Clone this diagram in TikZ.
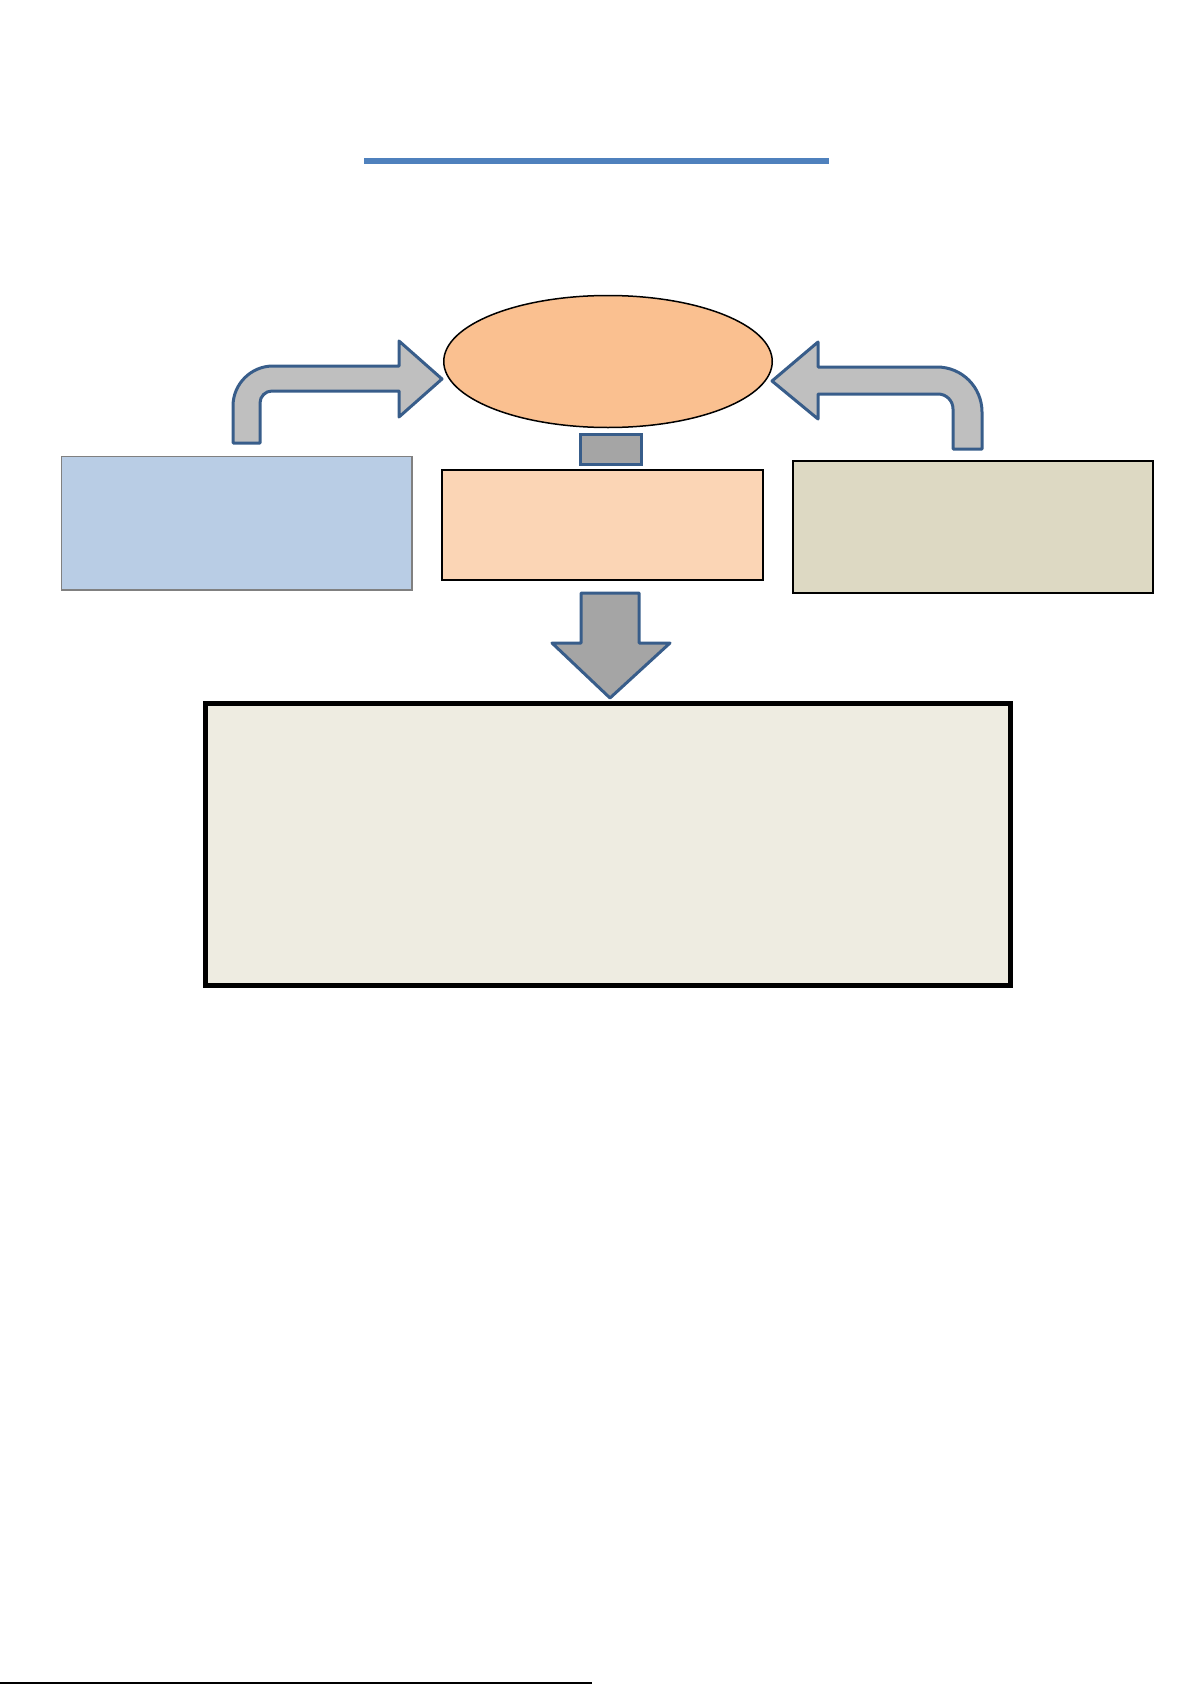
\documentclass[tikz,border=0pt]{standalone}
\usepackage{tikz}
\usetikzlibrary{shapes,arrows.meta,positioning,calc}
\usepackage{xcolor}
\definecolor{titleblue}{RGB}{79,129,189}
\definecolor{arrowblue}{RGB}{56,93,138}
\definecolor{arrowgrey}{RGB}{191,191,191}
\definecolor{darkgrey}{RGB}{165,165,165}
\definecolor{goalorange}{RGB}{250,192,144}
\definecolor{peachlight}{RGB}{251,213,181}
\definecolor{bluelight}{RGB}{185,205,229}
\definecolor{tanlight}{RGB}{221,217,195}
\definecolor{creamlight}{RGB}{238,236,225}

\begin{document}
\begin{tikzpicture}[x=0.5pt, y=-0.5pt,
    infobox/.style={rectangle, inner sep=0pt, outer sep=0pt},
    blockarr/.style={draw=arrowblue, line width=1.5pt, line join=round, fill=arrowgrey}
]
    \useasboundingbox (0,0) rectangle (1191,1685);

    % title rule
    \draw[titleblue, line width=2.75pt] (364,161) -- (829,161);

    \node[ellipse, draw=black, line width=0.75pt, fill=goalorange, inner sep=0pt,
        minimum width=164.25pt, minimum height=66pt] (goal) at (608,361.5) {};
    \node[infobox, draw=arrowblue, line width=1.5pt, fill=darkgrey,
        minimum width=30.5pt, minimum height=15pt] (link) at (611,449.5) {};

    \node[infobox, draw=gray, line width=0.6pt, fill=bluelight,
        minimum width=175.25pt, minimum height=66.75pt] (leftbox) at (236.75,523.25) {};
    \node[infobox, draw=black, line width=1pt, fill=peachlight,
        minimum width=160.5pt, minimum height=55pt] (midbox) at (602.5,525) {};
    \node[infobox, draw=black, line width=1pt, fill=tanlight,
        minimum width=180pt, minimum height=66pt] (rightbox) at (973,527) {};
    \node[infobox, draw=black, line width=2.5pt, fill=creamlight,
        minimum width=402.5pt, minimum height=141pt] (bigbox) at (608,844.5) {};

    \coordinate (ltip) at (442,379);
    \coordinate (rtip) at (772,381);

    % bent arrows into the ellipse
    \draw[blockarr] (233,443) -- (233,406) .. controls (233,384) and (251,366) .. (273,366)
        -- (399,366) -- (399,341) -- (ltip) -- (399,417) -- (399,391) -- (272,391)
        .. controls (265.4,391) and (260,396.4) .. (260,403) -- (260,443) -- cycle;
    \draw[blockarr] (982,449) -- (982,412) .. controls (982,387.1) and (961.9,367) .. (937,367)
        -- (818,367) -- (818,342) -- (rtip) -- (818,419) -- (818,394) -- (938,394)
        .. controls (946.3,394) and (953,400.7) .. (953,409) -- (953,449) -- cycle;

    % down arrow
    \draw[blockarr, fill=darkgrey] (581,593) -- (639,593) -- (639,643) -- (670,643)
        -- (610,698) -- (552,643) -- (581,643) -- cycle;

    % footnote rule
    \draw[black, line width=0.75pt] (0,1683) -- (592,1683);
\end{tikzpicture}
\end{document}
